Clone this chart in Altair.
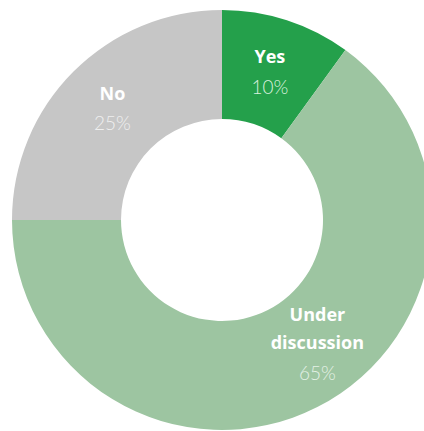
import altair as alt
import pandas as pd

categories = ["Yes", "Under discussion", "No"]
values = [10, 65, 25]
labels = ["Yes", "Under\ndiscussion", "No"]
pct_labels = ["10%", "65%", "25%"]
colors = ["#24a04b", "#9dc5a1", "#c6c6c6"]
pct_colors = ["#d9f0de", "#e4f1e6", "#efefef"]

df = pd.DataFrame({
    "category": categories,
    "value": values,
    "label": labels,
    "pct": pct_labels,
    "order": list(range(len(categories))),
    "pctcolor": pct_colors,
})

CX, CY = 222, 220
theta_scale = alt.Scale(domain=[0, 100])

arcs = alt.Chart(df).mark_arc(innerRadius=101, outerRadius=210).encode(
    theta=alt.Theta("value:Q", stack=True, scale=theta_scale),
    order=alt.Order("order:Q"),
    x=alt.value(CX),
    y=alt.value(CY),
    color=alt.Color("category:N", scale=alt.Scale(domain=categories, range=colors), legend=None),
)

tbase = alt.Chart(df).transform_window(
    cum="sum(value)", sort=[alt.SortField("order")]
).transform_calculate(
    mid="datum.cum - datum.value / 2"
).encode(
    theta=alt.Theta("mid:Q", stack=None, scale=theta_scale),
    x=alt.value(CX),
    y=alt.value(CY),
)

def text_layers(cat, dx, dy_name, dy_pct):
    b = tbase.transform_filter(alt.datum.category == cat)
    name = b.mark_text(
        radius=155, dx=dx, dy=dy_name, font="Open Sans", fontSize=18, fontWeight="bold",
        color="white", lineBreak="\n", lineHeight=28,
    ).encode(text="label:N")
    pct = b.mark_text(
        radius=155, dx=dx, dy=dy_pct, font="Lato", fontSize=19, fontWeight=300,
    ).encode(text="pct:N", color=alt.Color("pctcolor:N", scale=None))
    return [name, pct]

layers = [arcs]
layers += text_layers("Yes", 0, -15, 15)
layers += text_layers("No", 0, -15, 14)
layers += text_layers("Under discussion", 25, -42, 16)

chart = alt.layer(*layers).properties(
    width=424, height=431, padding=0, autosize=alt.AutoSizeParams(type="none")
).configure_view(stroke=None)

chart.save("out.html", embed_options={"renderer": "svg", "actions": False})
